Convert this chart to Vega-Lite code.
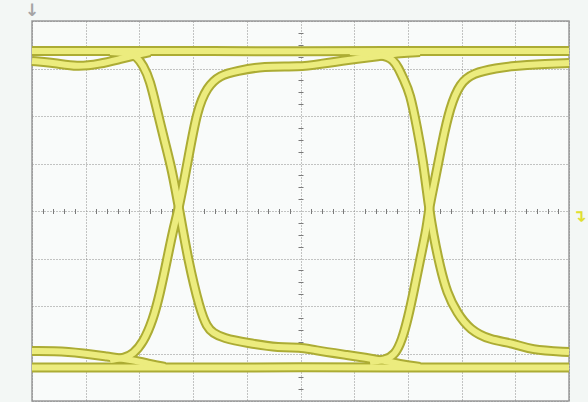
{
  "$schema": "https://vega.github.io/schema/vega-lite/v6.json",
  "width": 537,
  "height": 380,
  "autosize": {"type": "none"},
  "padding": {"left": 32, "top": 21, "right": 19, "bottom": 1},
  "background": "#f3f7f5",
  "config": {"view": {"fill": "#f9fbfa", "stroke": "#9a9a9a", "strokeWidth": 1.5}},
  "datasets": {
    "traces": [
      {"s": "top", "x": 0, "y": 3.37}, {"s": "top", "x": 2.5, "y": 3.37}, {"s": "top", "x": 5, "y": 3.36}, {"s": "top", "x": 7.5, "y": 3.37}, {"s": "top", "x": 10, "y": 3.37},
      {"s": "bot", "x": 0, "y": -3.295}, {"s": "bot", "x": 2.5, "y": -3.295}, {"s": "bot", "x": 5, "y": -3.29}, {"s": "bot", "x": 7.5, "y": -3.295}, {"s": "bot", "x": 10, "y": -3.295},
      {"s": "topL", "x": 0, "y": 3.158}, {"s": "topL", "x": 0.428, "y": 3.116}, {"s": "topL", "x": 0.838, "y": 3.032}, {"s": "topL", "x": 1.266, "y": 3.095}, {"s": "topL", "x": 1.639, "y": 3.2}, {"s": "topL", "x": 1.955, "y": 3.284}, {"s": "topL", "x": 2.197, "y": 3.347},
      {"s": "botL", "x": 0, "y": -2.947}, {"s": "botL", "x": 0.652, "y": -2.947}, {"s": "botL", "x": 1.453, "y": -3.074}, {"s": "botL", "x": 1.881, "y": -3.137}, {"s": "botL", "x": 2.197, "y": -3.221}, {"s": "botL", "x": 2.477, "y": -3.284},
      {"s": "fallL", "x": 1.453, "y": 3.347}, {"s": "fallL", "x": 1.825, "y": 3.326}, {"s": "fallL", "x": 1.955, "y": 3.242}, {"s": "fallL", "x": 2.067, "y": 3.074}, {"s": "fallL", "x": 2.197, "y": 2.758}, {"s": "fallL", "x": 2.328, "y": 2.126}, {"s": "fallL", "x": 2.477, "y": 1.432}, {"s": "fallL", "x": 2.607, "y": 0.863}, {"s": "fallL", "x": 2.737, "y": 0.063}, {"s": "fallL", "x": 2.905, "y": -1.032}, {"s": "fallL", "x": 3.128, "y": -2.084}, {"s": "fallL", "x": 3.259, "y": -2.442}, {"s": "fallL", "x": 3.371, "y": -2.568}, {"s": "fallL", "x": 3.557, "y": -2.674}, {"s": "fallL", "x": 4.004, "y": -2.779}, {"s": "fallL", "x": 4.618, "y": -2.884}, {"s": "fallL", "x": 4.991, "y": -2.863}, {"s": "fallL", "x": 5.233, "y": -2.926}, {"s": "fallL", "x": 5.866, "y": -3.032}, {"s": "fallL", "x": 6.48, "y": -3.137}, {"s": "fallL", "x": 6.853, "y": -3.221}, {"s": "fallL", "x": 7.225, "y": -3.284},
      {"s": "riseL", "x": 1.453, "y": -3.137}, {"s": "riseL", "x": 1.732, "y": -3.095}, {"s": "riseL", "x": 1.881, "y": -3.011}, {"s": "riseL", "x": 2.067, "y": -2.779}, {"s": "riseL", "x": 2.253, "y": -2.295}, {"s": "riseL", "x": 2.384, "y": -1.726}, {"s": "riseL", "x": 2.514, "y": -1.032}, {"s": "riseL", "x": 2.626, "y": -0.4}, {"s": "riseL", "x": 2.737, "y": 0.063}, {"s": "riseL", "x": 2.905, "y": 1.074}, {"s": "riseL", "x": 3.073, "y": 2.126}, {"s": "riseL", "x": 3.259, "y": 2.611}, {"s": "riseL", "x": 3.501, "y": 2.863}, {"s": "riseL", "x": 3.817, "y": 2.947}, {"s": "riseL", "x": 4.302, "y": 3.053}, {"s": "riseL", "x": 4.991, "y": 3.032}, {"s": "riseL", "x": 5.363, "y": 3.095}, {"s": "riseL", "x": 5.866, "y": 3.179}, {"s": "riseL", "x": 6.48, "y": 3.263}, {"s": "riseL", "x": 6.853, "y": 3.326}, {"s": "riseL", "x": 7.225, "y": 3.347},
      {"s": "fallR", "x": 5.922, "y": 3.347}, {"s": "fallR", "x": 6.574, "y": 3.284}, {"s": "fallR", "x": 6.723, "y": 3.179}, {"s": "fallR", "x": 6.816, "y": 3.032}, {"s": "fallR", "x": 6.927, "y": 2.758}, {"s": "fallR", "x": 7.039, "y": 2.484}, {"s": "fallR", "x": 7.169, "y": 1.768}, {"s": "fallR", "x": 7.281, "y": 1.074}, {"s": "fallR", "x": 7.393, "y": 0.063}, {"s": "fallR", "x": 7.467, "y": -0.463}, {"s": "fallR", "x": 7.598, "y": -1.179}, {"s": "fallR", "x": 7.728, "y": -1.726}, {"s": "fallR", "x": 7.914, "y": -2.147}, {"s": "fallR", "x": 8.156, "y": -2.505}, {"s": "fallR", "x": 8.529, "y": -2.716}, {"s": "fallR", "x": 8.957, "y": -2.779}, {"s": "fallR", "x": 9.274, "y": -2.926}, {"s": "fallR", "x": 10, "y": -2.968},
      {"s": "riseR", "x": 6.294, "y": -3.179}, {"s": "riseR", "x": 6.574, "y": -3.137}, {"s": "riseR", "x": 6.76, "y": -3.032}, {"s": "riseR", "x": 6.89, "y": -2.716}, {"s": "riseR", "x": 7.002, "y": -2.253}, {"s": "riseR", "x": 7.114, "y": -1.663}, {"s": "riseR", "x": 7.225, "y": -1.032}, {"s": "riseR", "x": 7.356, "y": -0.337}, {"s": "riseR", "x": 7.393, "y": 0.063}, {"s": "riseR", "x": 7.505, "y": 0.653}, {"s": "riseR", "x": 7.635, "y": 1.432}, {"s": "riseR", "x": 7.784, "y": 2.189}, {"s": "riseR", "x": 7.97, "y": 2.695}, {"s": "riseR", "x": 8.212, "y": 2.905}, {"s": "riseR", "x": 8.659, "y": 3.011}, {"s": "riseR", "x": 8.957, "y": 3.053}, {"s": "riseR", "x": 9.46, "y": 3.095}, {"s": "riseR", "x": 10, "y": 3.116}
    ],
    "symbols": [
      {"x": 0, "y": 4.22, "label": "↓", "c": "arrow"},
      {"x": 10.2, "y": -0.12, "label": "↴", "c": "trig"}
    ],
    "one": [{"x": 5, "y": 0}]
  },
  "layer": [
    {
      "data": {"name": "one"},
      "mark": {"type": "point", "opacity": 0},
      "encoding": {
        "x": {"field": "x", "type": "quantitative", "scale": {"domain": [0, 10], "nice": false, "zero": false},
          "axis": {"orient": "bottom", "values": [0, 1, 2, 3, 4, 5, 6, 7, 8, 9, 10], "grid": true, "gridColor": "#8a8a8a", "gridDash": [1, 2], "gridWidth": 1, "ticks": false, "labels": false, "domain": false, "title": null}},
        "y": {"field": "y", "type": "quantitative", "scale": {"domain": [-4, 4], "nice": false, "zero": false},
          "axis": {"orient": "left", "values": [-4, -3, -2, -1, 0, 1, 2, 3, 4], "grid": true, "gridColor": "#8a8a8a", "gridDash": [1, 2], "gridWidth": 1, "ticks": false, "labels": false, "domain": false, "title": null}}
      }
    },
    {
      "data": {"name": "one"},
      "mark": {"type": "point", "opacity": 0},
      "encoding": {
        "x": {"field": "x", "type": "quantitative",
          "axis": {"orient": "bottom", "offset": -192.5, "values": [0.2, 0.4, 0.6, 0.8, 1.2, 1.4, 1.6, 1.8, 2.2, 2.4, 2.6, 2.8, 3.2, 3.4, 3.6, 3.8, 4.2, 4.4, 4.6, 4.8, 5.2, 5.4, 5.6, 5.8, 6.2, 6.4, 6.6, 6.8, 7.2, 7.4, 7.6, 7.8, 8.2, 8.4, 8.6, 8.8, 9.2, 9.4, 9.6, 9.8], "grid": false, "ticks": true, "tickSize": 5, "tickColor": "#7a7a7a", "tickWidth": 1, "labels": false, "domain": false, "title": null}},
        "y": {"field": "y", "type": "quantitative",
          "axis": {"orient": "left", "offset": -271, "values": [-3.75, -3.5, -3.25, -2.75, -2.5, -2.25, -1.75, -1.5, -1.25, -0.75, -0.5, -0.25, 0.25, 0.5, 0.75, 1.25, 1.5, 1.75, 2.25, 2.5, 2.75, 3.25, 3.5, 3.75], "grid": false, "ticks": true, "tickSize": 5, "tickColor": "#7a7a7a", "tickWidth": 1, "labels": false, "domain": false, "title": null}}
      }
    },
    {
      "data": {"name": "traces"},
      "mark": {"type": "line", "stroke": "#acac34", "strokeWidth": 10, "interpolate": "basis", "strokeCap": "butt"},
      "encoding": {
        "x": {"field": "x", "type": "quantitative", "axis": null},
        "y": {"field": "y", "type": "quantitative", "axis": null},
        "detail": {"field": "s"}
      }
    },
    {
      "data": {"name": "traces"},
      "mark": {"type": "line", "stroke": "#ecec7e", "strokeWidth": 6, "interpolate": "basis", "strokeCap": "butt"},
      "encoding": {
        "x": {"field": "x", "type": "quantitative", "axis": null},
        "y": {"field": "y", "type": "quantitative", "axis": null},
        "detail": {"field": "s"}
      }
    },
    {
      "data": {"name": "symbols"},
      "mark": {"type": "text", "font": "DejaVu Sans", "fontSize": 17, "fontWeight": "bold"},
      "encoding": {
        "x": {"field": "x", "type": "quantitative", "axis": null},
        "y": {"field": "y", "type": "quantitative", "axis": null},
        "text": {"field": "label"},
        "color": {"field": "c", "type": "nominal", "scale": {"domain": ["arrow", "trig"], "range": ["#a4a4a4", "#e0e030"]}, "legend": null}
      }
    }
  ],
  "resolve": {"axis": {"x": "independent", "y": "independent"}}
}
